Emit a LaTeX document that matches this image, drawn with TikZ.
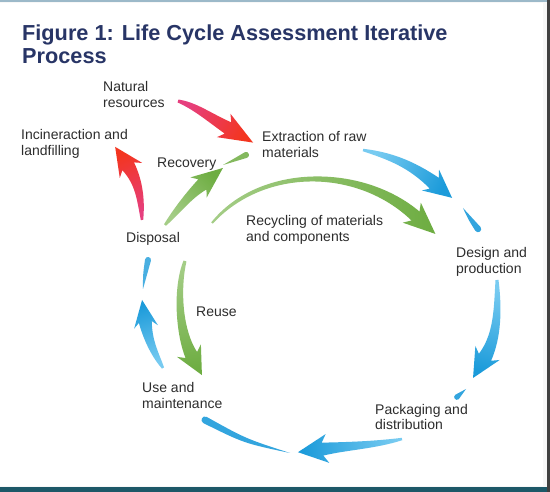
\documentclass[tikz,border=0pt]{standalone}
\usepackage{fontspec}
\setmainfont{Liberation Sans}
\usetikzlibrary{calc}
\definecolor{navy}{HTML}{283566}
\definecolor{txt}{HTML}{2D2D2D}
\definecolor{redtail}{HTML}{E63F7E}
\definecolor{redhead}{HTML}{F3351F}
\definecolor{greentail}{HTML}{A4CD86}
\definecolor{greenhead}{HTML}{6EAD42}
\definecolor{bluetail}{HTML}{78CBF1}
\definecolor{bluehead}{HTML}{1C9BDA}
\definecolor{framedark}{HTML}{1D5868}
\definecolor{frametop}{HTML}{9CB9C9}

% tapered arrow: #1 style, #2 tail, #3 ctrl1, #4 ctrl2, #5 head base, #6 tail half width, #7 base half width, #8 head half width, #9 head length
\newcommand\tarrow[9]{%
 \pgfmathsetmacro\tawm{(#6+#7)/2}%
 \coordinate (ta) at (#2); \coordinate (tb) at (#3); \coordinate (tc) at (#4); \coordinate (td) at (#5);
 \coordinate (tal) at ($(ta)!#6pt!90:(tb)$);
 \coordinate (tar) at ($(ta)!#6pt!-90:(tb)$);
 \coordinate (tna) at ($(ta)!\tawm pt!90:(tb)$);
 \coordinate (tnar) at ($(ta)!\tawm pt!-90:(tb)$);
 \coordinate (tbl) at ($(tb)+(tna)-(ta)$);
 \coordinate (tbr) at ($(tb)+(tnar)-(ta)$);
 \coordinate (tdl) at ($(td)!#7pt!-90:(tc)$);
 \coordinate (tdr) at ($(td)!#7pt!90:(tc)$);
 \coordinate (tnd) at ($(td)!\tawm pt!-90:(tc)$);
 \coordinate (tndr) at ($(td)!\tawm pt!90:(tc)$);
 \coordinate (tcl) at ($(tc)+(tnd)-(td)$);
 \coordinate (tcr) at ($(tc)+(tndr)-(td)$);
 \coordinate (tk) at ($(td)!5pt!(tc)$);
 \coordinate (thl) at ($(tk)!#8pt!-90:(tc)$);
 \coordinate (thr) at ($(tk)!#8pt!90:(tc)$);
 \coordinate (tt) at ($(td)!-#9pt!(tc)$);
 \shade[#1] (tal) .. controls (tbl) and (tcl) .. (tdl) -- (thl) -- (tt) -- (thr) -- (tdr) .. controls (tcr) and (tbr) .. (tar) -- cycle;
}
% teardrop: #1 style, #2 thin end, #3 control, #4 thick end, #5 half width
\newcommand\tdrop[5]{%
 \pgfmathsetmacro\tdm{0.7*#5}%
 \pgfmathsetmacro\tdk{-1.33*#5}%
 \coordinate (lp) at (#2); \coordinate (lm) at (#3); \coordinate (lq) at (#4);
 \coordinate (lql) at ($(lq)!#5pt!-90:(lm)$);
 \coordinate (lqr) at ($(lq)!#5pt!90:(lm)$);
 \coordinate (lqt) at ($(lq)!\tdk pt!(lm)$);
 \coordinate (lqlf) at ($(lql)+(lqt)-(lq)$);
 \coordinate (lqrf) at ($(lqr)+(lqt)-(lq)$);
 \coordinate (lpn) at ($(lp)!\tdm pt!90:(lq)$);
 \coordinate (lpnr) at ($(lp)!\tdm pt!-90:(lq)$);
 \coordinate (lml) at ($(lm)+(lpn)-(lp)$);
 \coordinate (lmr) at ($(lm)+(lpnr)-(lp)$);
 \fill[#1] (lp) .. controls (lml) .. (lql) .. controls (lqlf) and (lqrf) .. (lqr) .. controls (lmr) .. (lp) -- cycle;
}

\begin{document}
\begin{tikzpicture}[x=1pt,y=-1pt,
  lbl/.style={anchor=base west, inner sep=0pt, align=left, font=\fontsize{14}{15.5}\selectfont, text=txt},
  redar/.style={bottom color=redtail, top color=redhead, shading angle=#1},
  greenar/.style={bottom color=greentail, top color=greenhead, shading angle=#1},
  bluear/.style={bottom color=bluetail, top color=bluehead, shading angle=#1}]
\useasboundingbox (0,0) rectangle (550,492);
\fill[white!97!black] (0,0) rectangle (550,492);
\fill[white] (0,3) rectangle (543,486);
\fill[frametop] (0,0) rectangle (550,2);
\fill[framedark] (0,487) rectangle (550,492);
\fill[black!75] (547,0) rectangle (550,492);

% multi-line nodes are placed by the baseline of their last line
\node[anchor=base west, inner sep=0pt, align=left, font=\fontsize{21.7}{23}\selectfont\bfseries, text=navy] (title) at (22,64) {Figure 1: Life Cycle Assessment Iterative\\Process};

\node[lbl] (nat) at (103,107.5) {Natural\\resources};
\node[lbl] (inc) at (21,155.5) {Incineraction and\\landfilling};
\node[lbl] (ext) at (262,157.5) {Extraction of raw\\materials};
\node[lbl] (rec) at (157,168) {Recovery};
\node[lbl] (dis) at (126,243) {Disposal};
\node[lbl] (recy) at (246,241.5) {Recycling of materials\\and components};
\node[lbl] (des) at (456,273.5) {Design and\\production};
\node[lbl] (reu) at (196,317) {Reuse};
\node[lbl] (use) at (142,408.5) {Use and\\maintenance};
\node[lbl] (pac) at (375,429.5) {Packaging and\\distribution};

% red arrows
\tarrow{redar=-119}{178,101}{195,106}{206.5,115.5}{228,128}{1.5}{6.5}{13.5}{29}
\tarrow{redar=20}{142,220}{141,200}{139.4,183}{128.2,166.3}{1.2}{7}{13.5}{23.4}
% green arrows
\tarrow{greenar=-45.5}{165,225}{176,212}{188.4,195.6}{202.4,184.4}{1.2}{6.5}{13}{26.3}
\tarrow{greenar=-92}{212,223}{262,165}{360,166}{415.5,216}{1}{6}{13.5}{26.8}
\tarrow{greenar=-171.5}{185,261}{176,290}{179.6,332.9}{191.3,355}{1.5}{6.5}{13.5}{22.7}
% blue arrows
\tarrow{bluear=-118}{363,150}{390,156}{411,164}{434.3,183.2}{1.2}{7}{13.5}{23}
\tarrow{bluear=166}{497,280}{498,310}{497.5,335.7}{485,357.3}{1.5}{7}{14}{23.9}
\tarrow{bluear=97}{402,439}{375,445}{347,446}{322.5,449.1}{1.2}{6.5}{14.5}{24.7}
\tarrow{bluear=17}{163,368}{156,356}{148.2,341.8}{145.3,322}{1.2}{6.5}{12}{22.3}

% teardrops
\tdrop{greenhead!85!white}{223,165}{234,160}{246,155}{3}
\tdrop{bluehead!90!white}{463,208}{470,218}{478,229}{3.2}
\tdrop{bluehead!90!white}{466,389}{462,393}{457,397}{2.8}
\tdrop{bluehead!90!white}{290,453}{245,441}{205,420}{3.5}
\tdrop{bluehead!80!white}{143,289}{145,275}{148,260}{3}
\end{tikzpicture}
\end{document}
